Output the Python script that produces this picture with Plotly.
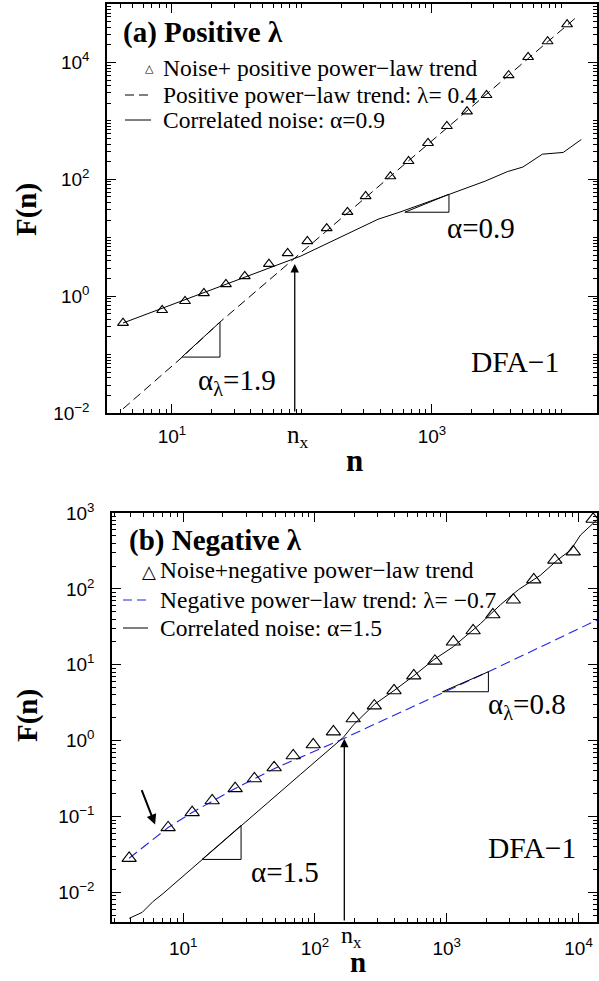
import math
import plotly.graph_objects as go

W, H = 599, 981
SERIF = "Liberation Serif, Times New Roman, serif"
SANS = "Liberation Sans, Arial, sans-serif"
BLUE = "#2323e6"

# ---------------- Panel (a): positive lambda ----------------
a_tri_n = [4.2, 8.4, 12.6, 17.6, 26, 36.3, 55.7, 77.6, 110, 155, 224, 309, 479,
           661, 933, 1303, 1862, 2630, 3890, 5495, 7762, 10965]
a_tri_F = [0.347, 0.575, 0.822, 1.12, 1.60, 2.19, 3.55, 5.43, 8.71, 14.5, 27.5,
           51.3, 112, 204, 417, 813, 1445, 2754, 6026, 12300, 22900, 44700]
a_trend_n = [4.2, 12, 23.4, 91, 480, 13200]
a_trend_F = [0.0118, 0.0906, 0.36, 4.8, 112, 61700]
a_noise_n = [4.2, 97, 385, 568, 1380, 2570, 3800, 5010, 7080, 10230, 14100]
a_noise_F = [0.347, 4.8, 20.7, 27.5, 56, 93, 135, 162, 269, 288, 479]
a_slope1_n = [619, 1352, 1352, 619]          # alpha = 0.9 guide
a_slope1_F = [27.3, 55.4, 27.3, 27.3]
a_slope2_n = [11.9, 23.4, 23.4, 11.9]        # alpha_lambda = 1.9 guide
a_slope2_F = [0.0906, 0.36, 0.0906, 0.0906]
a_nx, a_nx_F = 88, 3.55
a_yticks = [1e-2, 1, 1e2, 1e4]
a_ytext = ["10<sup>−2</sup>", "10<sup>0</sup>", "10<sup>2</sup>", "10<sup>4</sup>"]
a_xticks = [10, 1000]
a_xtext = ["10<sup>1</sup>", "10<sup>3</sup>"]

# ---------------- Panel (b): negative lambda ----------------
b_tri_n = [3.89, 7.69, 11.7, 16.6, 24.8, 34.7, 49, 68.4, 97, 138, 195, 282, 398,
           562, 813, 1122, 1585, 2239, 3199, 4571, 6607, 9120, 12900]
b_tri_F = [0.0282, 0.0716, 0.113, 0.162, 0.234, 0.316, 0.442, 0.635, 0.885, 1.31,
           1.95, 2.88, 4.57, 7.16, 11.2, 20, 28.2, 45.7, 71.6, 132, 240, 309, 832]
b_trend_n = [3.89, 7.69, 11.7, 24.8, 49, 77.3, 164, 2070, 14450]
b_trend_F = [0.0282, 0.0716, 0.113, 0.234, 0.427, 0.597, 1.06, 8.09, 40.3]
b_noise_n = [3.89, 4.89, 5.92, 6.92, 77.3, 164, 195, 282, 398, 562, 794, 1122,
             1799, 2553, 3499, 5129, 6918, 8710, 10350, 13800]
b_noise_F = [0.00455, 0.00546, 0.00762, 0.00942, 0.357, 1.10, 1.6, 3.0, 4.57,
             7.16, 11.6, 17.3, 34.7, 61.7, 97.7, 151, 240, 324, 513, 813]
b_slope1_n = [927, 2070, 2070, 927]          # alpha_lambda = 0.8 guide
b_slope1_F = [4.41, 8.09, 4.41, 4.41]
b_slope2_n = [13.9, 27.5, 27.5, 13.9]        # alpha = 1.5 guide
b_slope2_F = [0.0272, 0.0762, 0.0272, 0.0272]
b_nx, b_nx_F = 167, 1.06
b_yticks = [1e-2, 1e-1, 1, 10, 1e2, 1e3]
b_ytext = ["10<sup>−2</sup>", "10<sup>−1</sup>", "10<sup>0</sup>", "10<sup>1</sup>",
           "10<sup>2</sup>", "10<sup>3</sup>"]
b_xticks = [10, 100, 1000, 10000]
b_xtext = ["10<sup>1</sup>", "10<sup>2</sup>", "10<sup>3</sup>", "10<sup>4</sup>"]


def xp(px):
    return px / W


def yp(py):
    return 1 - py / H


def minor_vals(lo, hi, skip):
    out = []
    for e in range(lo, hi + 1):
        for m in range(1, 10):
            v = m * 10 ** e
            if m == 1 and any(abs(v - s) / s < 1e-9 for s in skip):
                continue
            out.append(v)
    return out


fig = go.Figure()

# panel a traces
fig.add_trace(go.Scatter(x=a_trend_n, y=a_trend_F, mode="lines", xaxis="x", yaxis="y",
                         line=dict(color="black", width=1, dash="9px,5px"), showlegend=False))
fig.add_trace(go.Scatter(x=a_noise_n, y=a_noise_F, mode="lines", xaxis="x", yaxis="y",
                         line=dict(color="black", width=1), showlegend=False))
fig.add_trace(go.Scatter(x=a_tri_n, y=a_tri_F, mode="markers", xaxis="x", yaxis="y",
                         marker=dict(symbol="triangle-up-open", size=9.5, color="black",
                                     line=dict(width=1.1, color="black")),
                         cliponaxis=False, showlegend=False))
for sx, sy in [(a_slope1_n, a_slope1_F), (a_slope2_n, a_slope2_F)]:
    fig.add_trace(go.Scatter(x=sx, y=sy, mode="lines", xaxis="x", yaxis="y",
                             line=dict(color="black", width=1), showlegend=False))

# panel b traces
fig.add_trace(go.Scatter(x=b_trend_n, y=b_trend_F, mode="lines", xaxis="x2", yaxis="y2",
                         line=dict(color=BLUE, width=1.1, dash="10px,5px"), showlegend=False))
fig.add_trace(go.Scatter(x=b_noise_n, y=b_noise_F, mode="lines", xaxis="x2", yaxis="y2",
                         line=dict(color="black", width=1), showlegend=False))
fig.add_trace(go.Scatter(x=b_tri_n, y=b_tri_F, mode="markers", xaxis="x2", yaxis="y2",
                         marker=dict(symbol="triangle-up-open", size=12.5, color="black",
                                     line=dict(width=1.1, color="black")),
                         cliponaxis=False, showlegend=False))
for sx, sy in [(b_slope1_n, b_slope1_F), (b_slope2_n, b_slope2_F)]:
    fig.add_trace(go.Scatter(x=sx, y=sy, mode="lines", xaxis="x2", yaxis="y2",
                             line=dict(color="black", width=1), showlegend=False))


def axis(domain, rng, tickvals, ticktext, mlo, mhi, anchor, standoff):
    return dict(type="log", domain=domain, range=rng, anchor=anchor, automargin=False,
                showline=True, linecolor="black", linewidth=1.5, mirror="allticks",
                ticks="inside", ticklen=9, tickwidth=1.2, tickcolor="black",
                showgrid=False, zeroline=False, tickmode="array",
                tickvals=tickvals, ticktext=ticktext, ticklabelstandoff=standoff,
                tickfont=dict(family=SANS, size=19, color="black"),
                minor=dict(ticks="inside", ticklen=4, tickwidth=1, tickcolor="black",
                           showgrid=False, tickmode="array",
                           tickvals=minor_vals(mlo, mhi, tickvals)))


fig.update_layout(
    width=W, height=H, margin=dict(l=0, r=0, t=0, b=0, autoexpand=False),
    paper_bgcolor="white", plot_bgcolor="white",
    xaxis=axis([xp(107), xp(597)], [0.5, 4.27], a_xticks, a_xtext, 0, 4, "y", 5),
    yaxis=axis([yp(413), yp(4)], [-2, 5], a_yticks, a_ytext, -2, 4, "x", 12),
    xaxis2=axis([xp(112), xp(597)], [0.46, 4.14], b_xticks, b_xtext, 0, 4, "y2", 8),
    yaxis2=axis([yp(922), yp(513)], [-2.39, 3], b_yticks, b_ytext, -3, 2, "x2", 12),
)

ann = []


def text(px, py, s, size, xanchor="center", family=SERIF, textangle=0, yanchor="middle"):
    ann.append(dict(x=xp(px), y=yp(py), xref="paper", yref="paper", text=s,
                    showarrow=False, xanchor=xanchor, yanchor=yanchor, textangle=textangle,
                    font=dict(family=family, size=size, color="black")))


# panel a labels
text(121, 32, "<b>(a) Positive λ</b>", 29, "left")
text(149, 69, "△", 11, "center", "DejaVu Sans")
text(161, 68, "Noise+ positive power−law trend", 23.5, "left")
text(161, 95, "Positive power−law trend: λ= 0.4", 23.5, "left")
text(161, 120, "Correlated noise: α=0.9", 23.5, "left")
text(515, 362, "DFA−1", 29.5)
text(481, 228, "α=0.9", 29)
text(237, 382, "α<sub>λ</sub>=1.9", 29)
text(298, 436, "n<sub>x</sub>", 25)
text(354, 460, "<b>n</b>", 31)
text(27, 210, "<b>F(n)</b>", 29, "center", SERIF, -90)

# panel b labels
text(127, 540, "<b>(b) Negative λ</b>", 29, "left")
text(149, 571, "△", 18, "center", "DejaVu Sans")
text(158, 570, "Noise+negative power−law trend", 23.5, "left")
text(158, 600, "Negative power−law trend: λ= −0.7", 23.5, "left")
text(158, 628, "Correlated noise: α=1.5", 23.5, "left")
text(532, 848, "DFA−1", 29.5)
text(527, 706, "α<sub>λ</sub>=0.8", 29)
text(285, 872, "α=1.5", 29)
text(351, 937, "n<sub>x</sub>", 24)
text(358, 980, "<b>n</b>", 29, "center", SERIF, 0, "bottom")
text(27, 716, "<b>F(n)</b>", 29, "center", SERIF, -90)

# arrows at crossover n_x
ann.append(dict(x=math.log10(a_nx), y=math.log10(a_nx_F), ax=math.log10(a_nx), ay=-2,
                xref="x", yref="y", axref="x", ayref="y", text="", showarrow=True,
                arrowhead=2, arrowsize=1.3, arrowwidth=1.3, arrowcolor="black"))
ann.append(dict(x=math.log10(b_nx), y=math.log10(b_nx_F), ax=math.log10(b_nx), ay=-2.39,
                xref="x2", yref="y2", axref="x2", ayref="y2", text="", showarrow=True,
                arrowhead=2, arrowsize=1.3, arrowwidth=1.3, arrowcolor="black"))
# pointer arrow in panel b
ann.append(dict(x=0.787, y=-1.105, ax=0.681, ay=-0.632,
                xref="x2", yref="y2", axref="x2", ayref="y2", text="", showarrow=True,
                arrowhead=2, arrowsize=1, arrowwidth=2, arrowcolor="black"))

fig.update_layout(annotations=ann)

# legend keys
shapes = [
    dict(type="line", xref="paper", yref="paper", x0=xp(125), x1=xp(151), y0=yp(95), y1=yp(95),
         line=dict(color="black", width=1, dash="9px,5px")),
    dict(type="line", xref="paper", yref="paper", x0=xp(125), x1=xp(151), y0=yp(120), y1=yp(120),
         line=dict(color="black", width=1)),
    dict(type="line", xref="paper", yref="paper", x0=xp(123), x1=xp(148), y0=yp(600), y1=yp(600),
         line=dict(color=BLUE, width=1, dash="9px,5px")),
    dict(type="line", xref="paper", yref="paper", x0=xp(123), x1=xp(148), y0=yp(628), y1=yp(628),
         line=dict(color="black", width=1)),
]
fig.update_layout(shapes=shapes)

fig.write_html("out.html", config={"displayModeBar": False},
               post_script="document.body.style.margin='0';document.body.style.overflow='hidden';")
